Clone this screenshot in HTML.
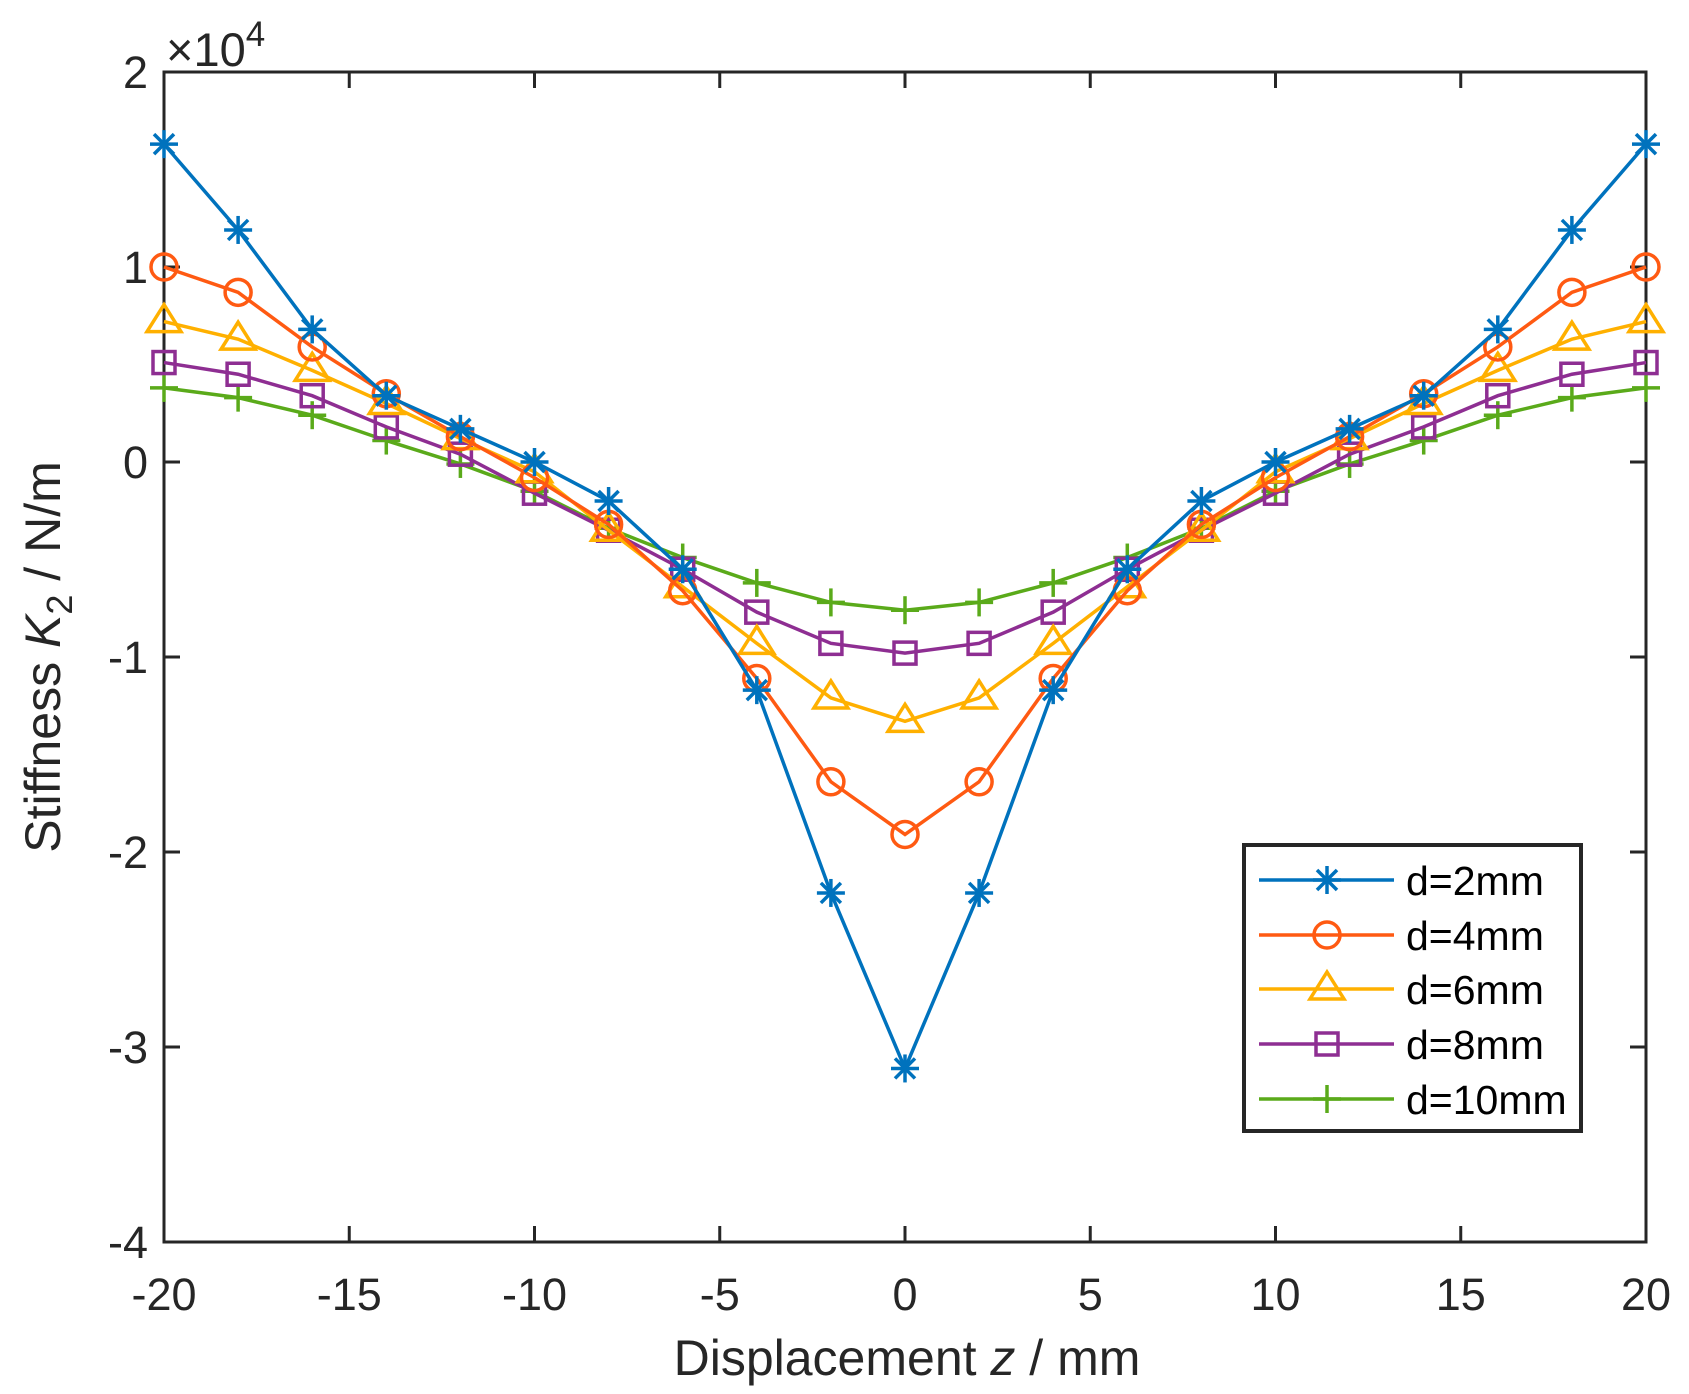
<!DOCTYPE html>
<html><head><meta charset="utf-8"><style>
body{margin:0;background:#fff}
svg{display:block}
text{font-family:"Liberation Sans",Arial,sans-serif;fill:#262626}
</style></head><body>
<svg id="s" width="1689" height="1394" viewBox="0 0 1689 1394" xmlns="http://www.w3.org/2000/svg"></svg>
<script>
const L=164,R=1646,T=72,B=1242;
const X=v=>L+(v+20)*(R-L)/40, Y=v=>T+(2-v)*(B-T)/6;
const s=document.getElementById('s');let h='';
h+=`<rect x="${L}" y="${T}" width="${R-L}" height="${B-T}" fill="#fff" stroke="#262626" stroke-width="3"/>`;
for(let v=-20;v<=20;v+=5){const x=X(v);
 h+=`<line x1="${x}" y1="${B}" x2="${x}" y2="${B-16}" stroke="#262626" stroke-width="3"/><line x1="${x}" y1="${T}" x2="${x}" y2="${T+16}" stroke="#262626" stroke-width="3"/>`;
 h+=`<text x="${x}" y="${B+68}" font-size="45" text-anchor="middle">${v}</text>`;}
for(let v=-4;v<=2;v++){const y=Y(v);
 h+=`<line x1="${L}" y1="${y}" x2="${L+16}" y2="${y}" stroke="#262626" stroke-width="3"/><line x1="${R}" y1="${y}" x2="${R-16}" y2="${y}" stroke="#262626" stroke-width="3"/>`;
 h+=`<text x="${148}" y="${y+16}" font-size="45" text-anchor="end">${v}</text>`;}
h+=`<text x="166" y="66" font-size="47">×10<tspan dy="-20" font-size="35">4</tspan></text>`;
h+=`<text x="907" y="1375" font-size="50" text-anchor="middle">Displacement <tspan font-style="italic">z</tspan> / mm</text>`;
h+=`<text transform="translate(60,657) rotate(-90)" font-size="50" text-anchor="middle">Stiffness <tspan font-style="italic">K</tspan><tspan dy="12" font-size="36">2</tspan><tspan dy="-12"> / N/m</tspan></text>`;
const xs=[-20,-18,-16,-14,-12,-10,-8,-6,-4,-2,0];
const cols=['#0072BD','#FF5A12','#FFB000','#8E2E92','#5AAA1A'];
const dats=[[1.63,1.19,0.68,0.34,0.17,0,-0.20,-0.55,-1.17,-2.21,-3.11],
[1.0,0.87,0.59,0.35,0.13,-0.08,-0.32,-0.66,-1.11,-1.64,-1.91],
[0.72,0.63,0.47,0.30,0.12,-0.05,-0.35,-0.64,-0.93,-1.21,-1.33],
[0.51,0.45,0.34,0.18,0.04,-0.16,-0.35,-0.55,-0.77,-0.93,-0.98],
[0.38,0.33,0.24,0.11,-0.01,-0.15,-0.34,-0.49,-0.62,-0.72,-0.76]];
const labels=['d=2mm','d=4mm','d=6mm','d=8mm','d=10mm'];
function mk(t,x,y,c){
 if(t==0){let r=14;return `<g stroke="${c}" stroke-width="3.5"><line x1="${x-r}" y1="${y}" x2="${x+r}" y2="${y}"/><line x1="${x}" y1="${y-r}" x2="${x}" y2="${y+r}"/><line x1="${x-10}" y1="${y-10}" x2="${x+10}" y2="${y+10}"/><line x1="${x-10}" y1="${y+10}" x2="${x+10}" y2="${y-10}"/></g>`;}
 if(t==1)return `<circle cx="${x}" cy="${y}" r="13" fill="none" stroke="${c}" stroke-width="3.5"/>`;
 if(t==2)return `<polygon points="${x},${y-17} ${x+17},${y+10} ${x-17},${y+10}" fill="none" stroke="${c}" stroke-width="3.5"/>`;
 if(t==3)return `<rect x="${x-11}" y="${y-11}" width="22" height="22" fill="none" stroke="${c}" stroke-width="3.5"/>`;
 return `<g stroke="${c}" stroke-width="3.5"><line x1="${x-14}" y1="${y}" x2="${x+14}" y2="${y}"/><line x1="${x}" y1="${y-14}" x2="${x}" y2="${y+14}"/></g>`;
}
for(let k=4;k>=0;k--){
 const d=dats[k];const px=[],py=[];
 for(let i=0;i<11;i++){px.push(xs[i]);py.push(d[i]);}
 for(let i=9;i>=0;i--){px.push(-xs[i]);py.push(d[i]);}
 h+=`<polyline points="${px.map((v,i)=>X(v)+','+Y(py[i])).join(' ')}" fill="none" stroke="${cols[k]}" stroke-width="3.5"/>`;
 for(let i=0;i<px.length;i++)h+=mk(k,X(px[i]),Y(py[i]),cols[k]);
}
h+=`<rect x="1244" y="845" width="337" height="286" fill="#fff" stroke="#262626" stroke-width="4"/>`;
const ry=[880,935,989,1044,1099];
for(let k=0;k<5;k++){
 h+=`<line x1="1259" y1="${ry[k]}" x2="1394" y2="${ry[k]}" stroke="${cols[k]}" stroke-width="3.5"/>`+mk(k,1327,ry[k],cols[k]);
 h+=`<text x="1406" y="${ry[k]+15}" font-size="41" style="fill:#000">${labels[k]}</text>`;
}
s.innerHTML=h;
</script>
</body></html>
